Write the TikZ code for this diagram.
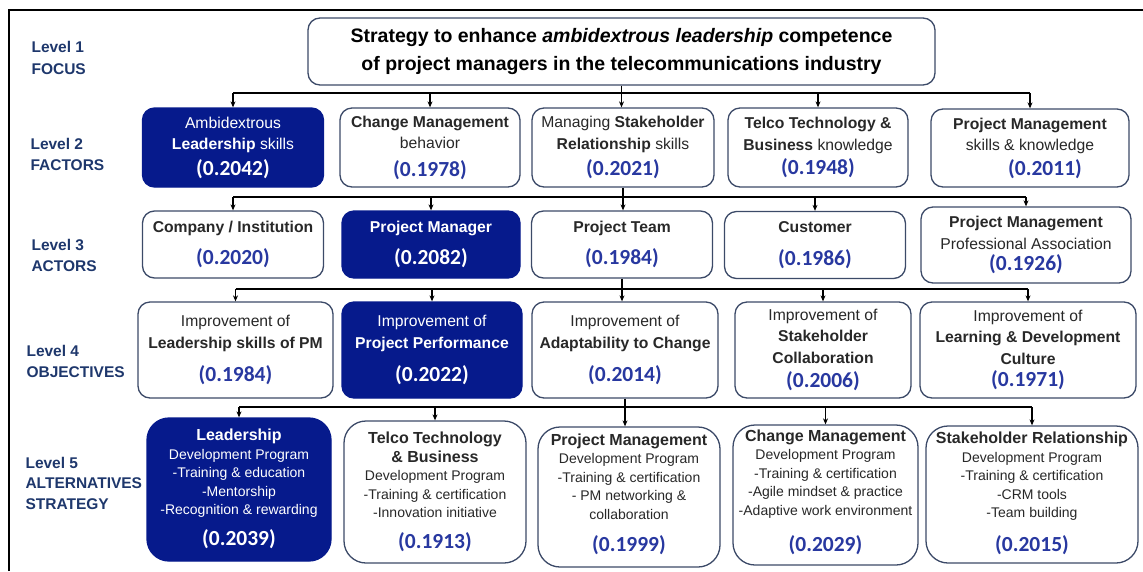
\documentclass[tikz,border=0pt]{standalone}
\usepackage{fontspec}
\setmainfont{Liberation Sans}
\newfontfamily\numfont{Carlito}
\usetikzlibrary{arrows.meta}
\definecolor{navyfill}{RGB}{6,26,140}
\definecolor{boxline}{RGB}{60,74,104}
\definecolor{valblue}{RGB}{40,56,160}
\definecolor{lvlblue}{RGB}{30,55,108}
\definecolor{txtgray}{RGB}{40,40,40}
\newcommand{\val}[1]{{\numfont\bfseries\fontsize{21.5}{21.5}\selectfont\color{valblue}(#1)}}
\newcommand{\valw}[1]{{\numfont\bfseries\fontsize{21.5}{21.5}\selectfont\color{white}(#1)}}
\newcommand{\ttl}[1]{{\bfseries\fontsize{16}{18.5}\selectfont #1}}
\newcommand{\lift}[1]{\rule[-#1pt]{0pt}{0pt}}
\begin{document}
\begin{tikzpicture}
		[x=1pt,y=-1pt,
		 sz/.style 2 args={minimum width=#1pt,minimum height=#2pt},
		 box/.style={draw=boxline,line width=1.3pt,rounded corners=12pt,fill=white,text=txtgray,align=center,inner sep=0pt,font=\fontsize{15.7}{21.5}\selectfont},
		 dark/.style={box,fill=navyfill,draw=navyfill,text=white},
		 alt/.style={rounded corners=22pt,font=\fontsize{14}{18.5}\selectfont},
		 lvl/.style={anchor=west,align=left,text=lvlblue,font=\bfseries\fontsize{15.5}{21.5}\selectfont},
		 link/.style={line width=1.2pt},
		 arr/.style={link,-{Stealth[length=6pt,width=5pt]}}]
		\useasboundingbox (0,0) rectangle (1143,571);
		\draw[line width=2pt] (9,571) -- (9,10) -- (1143,10);

		\node[lvl] (v1) at (28,58) {Level 1\\FOCUS};
		\node[lvl] (v2) at (27,154.5) {Level 2\\FACTORS};
		\node[lvl] (v3) at (28,255.5) {Level 3\\ACTORS};
		\node[lvl] (v4) at (23,361.5) {Level 4\\OBJECTIVES};
		\node[lvl,font=\bfseries\fontsize{15.5}{20.5}\selectfont] (v5) at (22,483) {Level 5\\ALTERNATIVES\\STRATEGY};

		\node[box,sz={627}{67},text=black,font=\bfseries\fontsize{19.5}{28}\selectfont] (top) at (621.5,51.5)
			{Strategy to enhance \textit{ambidextrous leadership} competence\\of project managers in the telecommunications industry};

		\node[dark,sz={181}{79}] (f1) at (233,147.5) {Ambidextrous\\\textbf{Leadership} skills\\[4pt]\valw{0.2042}};
		\node[box,sz={180}{79}] (f2) at (430,147.5) {\textbf{Change Management}\\behavior\\[6pt]\val{0.1978}};
		\node[box,sz={182}{79}] (f3) at (623,147.5) {Managing \textbf{Stakeholder}\\\textbf{Relationship} skills\\[5pt]\val{0.2021}};
		\node[box,sz={180}{79}] (f4) at (818,147.5) {\textbf{Telco Technology \&}\\\textbf{Business} knowledge\\[3pt]\val{0.1948}};
		\node[box,sz={198}{78}] (f5) at (1030,148) {\textbf{Project Management}\\skills \& knowledge\\[3pt]\hspace*{30pt}\val{0.2011}};

		\node[box,sz={181}{67}] (a1) at (233,244.5) {\textbf{Company / Institution}\\[11pt]\val{0.2020}};
		\node[dark,sz={178}{67}] (a2) at (431,244.5) {\textbf{Project Manager}\\[11pt]\valw{0.2082}};
		\node[box,sz={181}{67}] (a3) at (622,244.5) {\textbf{Project Team}\\[11pt]\val{0.1984}};
		\node[box,sz={181}{67}] (a4) at (815,245) {\textbf{Customer}\\[11pt]\val{0.1986}};
		\node[box,sz={210}{76}] (a5) at (1026,245) {\textbf{Project Management}\\Professional Association\\\val{0.1926}};

		\node[box,sz={195}{96}] (o1) at (235.5,350) {Improvement of\\\textbf{Leadership skills of PM}\\[12pt]\val{0.1984}};
		\node[dark,sz={180}{96}] (o2) at (432,350) {Improvement of\\\textbf{Project Performance}\\[12pt]\valw{0.2022}};
		\node[box,sz={186}{96}] (o3) at (625,350) {Improvement of\\\textbf{Adaptability to Change}\\[12pt]\val{0.2014}};
		\node[box,sz={176}{96}] (o4) at (823,350) {Improvement of\\\textbf{Stakeholder}\\\textbf{Collaboration}\\[3pt]\val{0.2006}};
		\node[box,sz={216}{96}] (o5) at (1028,350) {Improvement of\\\textbf{Learning \& Development}\\\textbf{Culture}\\[1pt]\val{0.1971}};

		\node[dark,alt,sz={184}{143}] (s1) at (239,489.5)
			{\ttl{Leadership}\\Development Program\\-Training \& education\\-Mentorship\\-Recognition \& rewarding\\[11pt]\valw{0.2039}\lift{4}};
		\node[box,alt,sz={182}{142}] (s2) at (435,492)
			{\ttl{Telco Technology}\\\ttl{\& Business}\\Development Program\\-Training \& certification\\-Innovation initiative\\[12pt]\val{0.1913}\lift{4}};
		\node[box,alt,sz={182}{140}] (s3) at (629,497)
			{\ttl{Project Management}\\Development Program\\-Training \& certification\\- PM networking \&\\collaboration\\[14pt]\val{0.1999}\lift{9}};
		\node[box,alt,sz={185}{140}] (s4) at (825.5,495)
			{\ttl{Change Management}\\Development Program\\-Training \& certification\\-Agile mindset \& practice\\-Adaptive work environment\\[16pt]\val{0.2029}\lift{9}};
		\node[box,alt,sz={212}{137}] (s5) at (1032,494.5)
			{\ttl{Stakeholder Relationship}\\Development Program\\-Training \& certification\\-CRM tools\\-Team building\\[14pt]\val{0.2015}\lift{5}};

		\coordinate (b1) at (0,93);
		\coordinate (b2) at (0,197);
		\coordinate (b3) at (0,289);
		\coordinate (b4) at (0,407);

		\draw[arr] (top.south) -- (top.south |- f3.north);
		\draw[link] (f1.north |- b1) -- (f5.north |- b1);
		\foreach \n in {f1,f2,f4,f5}
			\draw[arr] (\n.north |- b1) -- (\n.north);

		\draw[arr] (f3.south) -- (f3.south |- a3.north);
		\draw[link] (a1.north |- b2) -- (a5.north |- b2);
		\foreach \n in {a1,a2,a4,a5}
			\draw[arr] (\n.north |- b2) -- (\n.north);

		\draw[arr] (a3.south) -- (a3.south |- o3.north);
		\draw[link] (o1.north |- b3) -- (o5.north |- b3);
		\foreach \n in {o1,o2,o4,o5}
			\draw[arr] (\n.north |- b3) -- (\n.north);

		\draw[arr] (o3.south) -- (o3.south |- s3.north);
		\draw[link] (s1.north |- b4) -- (s5.north |- b4);
		\foreach \n in {s1,s2,s4,s5}
			\draw[arr] (\n.north |- b4) -- (\n.north);

	\end{tikzpicture}
\end{document}
